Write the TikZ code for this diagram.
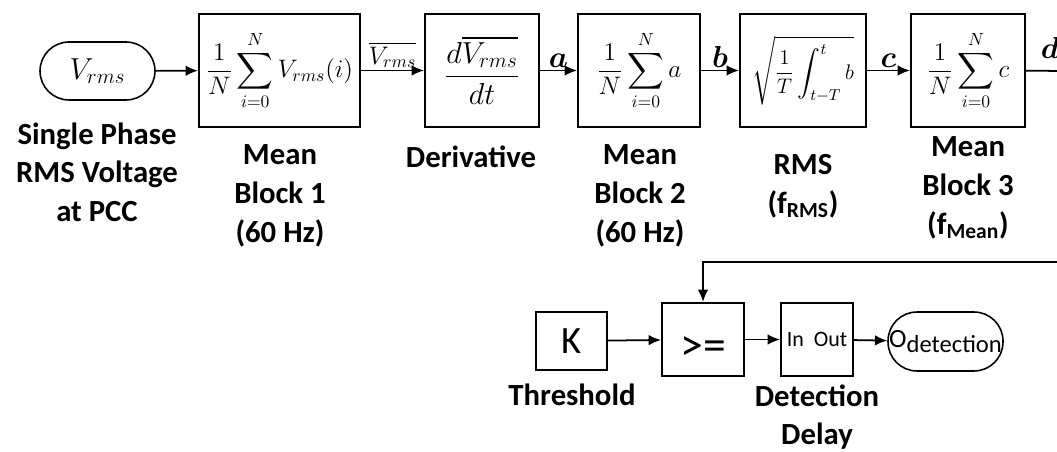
\documentclass[tikz,border=0pt]{standalone}
\usepackage{amsmath,amssymb,bm}
\usepackage{fontspec}
\setmainfont{Carlito}
\usetikzlibrary{arrows.meta,positioning}

\begin{document}
\begin{tikzpicture}[x=0.02cm,y=-0.02cm,
    box/.style={draw, line width=1.2pt, inner sep=0pt, minimum height=2.26cm, font=\fontsize{14.5}{14.5}\selectfont},
    cbox/.style={draw, line width=1.2pt, inner sep=0pt, font=\fontsize{22}{22}\selectfont},
    pill/.style={draw, line width=0.9pt, rounded corners=0.58cm, inner sep=0pt, minimum width=2.3cm, minimum height=1.16cm},
    lbl/.style={font=\fontsize{17.5}{22}\selectfont\bfseries, align=center},
    sig/.style={font=\fontsize{17}{17}\selectfont, inner sep=1pt},
    arr/.style={-{Latex[length=7pt,width=6pt]}, line width=1pt}
]
\useasboundingbox (0,0) rectangle (1057,452);

% upper chain
\node[pill] (vin) at (97.5,71) {\fontsize{17}{17}\selectfont$V_{rms}$};
\node[box, minimum width=3.22cm] (mean1) at (279.5,70.5) {$\displaystyle\frac{1}{N}\sum_{i=0}^{N}V_{rms}(i)$};
\node[box, minimum width=2.28cm] (deriv) at (482,70.5) {\fontsize{18.5}{18.5}\selectfont$\dfrac{d\overline{V_{rms}}}{dt}$};
\node[box, minimum width=2.44cm] (mean2) at (639,70.5) {$\displaystyle\frac{1}{N}\sum_{i=0}^{N}a$};
\node[box, minimum width=2.52cm, font=\fontsize{13}{13}\selectfont] (rms) at (803,70.5) {$\displaystyle\sqrt{\frac{1}{T}\int_{t-T}^{t}b}$};
\node[box, minimum width=2.28cm] (mean3) at (968,70.5) {$\displaystyle\frac{1}{N}\sum_{i=0}^{N}c$};
\coordinate (outR) at (1075,71);

\node[lbl] (vinlbl) at (97,172) {Single Phase\\RMS Voltage\\at PCC};
\node[lbl] (mean1lbl) at (280,196) {Mean\\Block 1\\(60 Hz)};
\node[lbl] (derivlbl) at (471,157) {Derivative};
\node[lbl] (mean2lbl) at (640,196) {Mean\\Block 2\\(60 Hz)};
\node[lbl] (rmslbl) at (803,186) {RMS\\(f\textsubscript{RMS})};
\node[lbl] (mean3lbl) at (968,188) {Mean\\Block 3\\(f\textsubscript{Mean})};

\draw[arr] (vin) -- (mean1);
\draw[arr] (mean1) -- node[sig, above, font=\fontsize{14}{14}\selectfont] {$\overline{V_{rms}}$} (deriv);
\draw[arr] (deriv) -- node[sig, above] {$\bm{a}$} (mean2);
\draw[arr] (mean2) -- node[sig, above] {$\bm{b}$} (rms);
\draw[arr] (rms) -- node[sig, above] {$\bm{c}$} (mean3);
\draw[line width=1pt] (mean3) -- (outR);
\node[sig] (dlbl) at (1050,48) {$\bm{d}$};

% detection chain
\node[cbox, minimum width=1.42cm, minimum height=1.16cm] (thr) at (571.5,341) {K};
\node[cbox, minimum width=1.64cm, minimum height=1.46cm] (cmp) at (703,339.5) {\fontsize{26}{26}\selectfont\raisebox{-5pt}[\height][\depth]{>=}};
\node[cbox, minimum width=1.44cm, minimum height=1.46cm, font=\fontsize{12.5}{12.5}\selectfont] (delay) at (817,339.5) {In\ \ Out};
\node[pill, minimum height=1.18cm] (odet) at (945.5,341.5) {\fontsize{15}{15}\selectfont O\raisebox{-0.35ex}{\fontsize{14}{14}\selectfont detection}};
\coordinate (fbR) at (1075,262);

\node[lbl] (thrlbl) at (572,395) {Threshold};
\node[lbl] (delaylbl) at (817,417) {Detection\\Delay};

\draw[arr] (thr) -- (cmp);
\draw[arr] (cmp) -- (delay);
\draw[arr] (delay) -- (odet);
\draw[arr] (fbR) -| (cmp.north);
\end{tikzpicture}
\end{document}
